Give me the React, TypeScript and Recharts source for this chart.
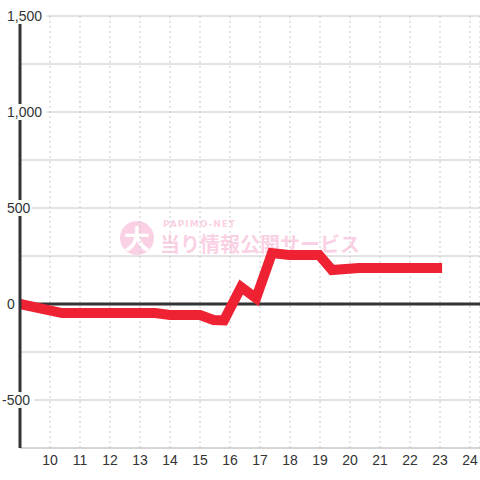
import { LineChart, Line, XAxis, YAxis, CartesianGrid, ReferenceLine } from "recharts";

// hours of the day (x) and balance (y)
const hours = [9, 10.4, 13.5, 14.0, 15.0, 15.45, 15.8, 16.37, 16.87, 17.4, 17.97, 18.97, 19.4, 20.3, 23.07];
const balance = [0, -47, -47, -57, -57, -83, -85, 88, 30, 265, 255, 255, 177, 187, 187];

const xTicks = [10, 11, 12, 13, 14, 15, 16, 17, 18, 19, 20, 21, 22, 23, 24];
const yTicks = [-750, -500, -250, 0, 250, 500, 750, 1000, 1250, 1500];
const yLabelled = [-500, 0, 500, 1000, 1500];

const data = hours.map((h, i) => ({ h, v: balance[i] }));

const fmt = (v: number) => v.toLocaleString("en-US");

function YTick(props: any) {
  const { y, payload } = props;
  if (!yLabelled.includes(payload.value)) return null;
  const label = fmt(payload.value);
  const w = label.length * 7.8 + 2;
  const x0 = payload.value < 0 ? 2 : 7;
  return (
    <g>
      <rect x={x0 - 1} y={y - 8} width={w} height={16} fill="#ffffff" />
      <text x={x0} y={y} dy={5} fontSize={14} fill="#333" textAnchor="start" fontFamily="'Liberation Sans', Arial, sans-serif">
        {label}
      </text>
    </g>
  );
}

function Watermark() {
  return (
    <div style={{ position: "absolute", left: 120, top: 220, width: 260, height: 40, opacity: 0.3, pointerEvents: "none" }}>
      <div
        style={{
          position: "absolute", left: 0, top: 1, width: 34, height: 34, borderRadius: 17, background: "#f06aa8",
          color: "#fff", fontSize: 26, fontWeight: 700, lineHeight: "34px", textAlign: "center",
          fontFamily: "'Noto Sans CJK JP', sans-serif",
        }}
      >
        大
      </div>
      <div style={{ position: "absolute", left: 43, top: -1, fontSize: 9, letterSpacing: 1, color: "#f06aa8", fontFamily: "'DejaVu Sans', sans-serif", fontWeight: 700 }}>
        PAPIMO-NET
      </div>
      <div style={{ position: "absolute", left: 40, top: 11, fontSize: 20, fontWeight: 700, color: "#f06aa8", whiteSpace: "nowrap", lineHeight: "26px", fontFamily: "'Noto Sans CJK JP', sans-serif" }}>
        当り情報公開サービス
      </div>
    </div>
  );
}

export default function App() {
  return (
    <div style={{ position: "absolute", left: 0, top: 0, width: 480, height: 480, background: "#fff", fontFamily: "'Liberation Sans', Arial, sans-serif" }}>
      <Watermark />
      <div style={{ position: "absolute", left: 0, top: 0 }}>
        <LineChart width={480} height={480} data={data} margin={{ top: 16, right: 0, bottom: 0, left: 19 }}>
          <CartesianGrid horizontal={false} stroke="#c8c8c8" strokeDasharray="2 3" />
          <CartesianGrid vertical={false} stroke="#c8c8c8" />
          <XAxis
            dataKey="h"
            type="number"
            domain={[9, 24.3333]}
            ticks={xTicks}
            axisLine={{ stroke: "#c8c8c8" }}
            tickLine={false}
            height={32}
            tick={{ fontSize: 14, fill: "#333" }}
            tickMargin={1}
            interval={0}
          />
          <YAxis
            type="number"
            domain={[-750, 1500]}
            ticks={yTicks}
            width={1}
            axisLine={{ stroke: "#333", strokeWidth: 3 }}
            tickLine={false}
            tick={<YTick />}
            interval={0}
          />
          <ReferenceLine y={0} stroke="#333" strokeWidth={3} />
          <Line
            dataKey="v"
            type="linear"
            stroke="#ee2233"
            strokeWidth={10}
            strokeLinejoin="miter"
            dot={false}
            isAnimationActive={false}
          />
        </LineChart>
      </div>
    </div>
  );
}
